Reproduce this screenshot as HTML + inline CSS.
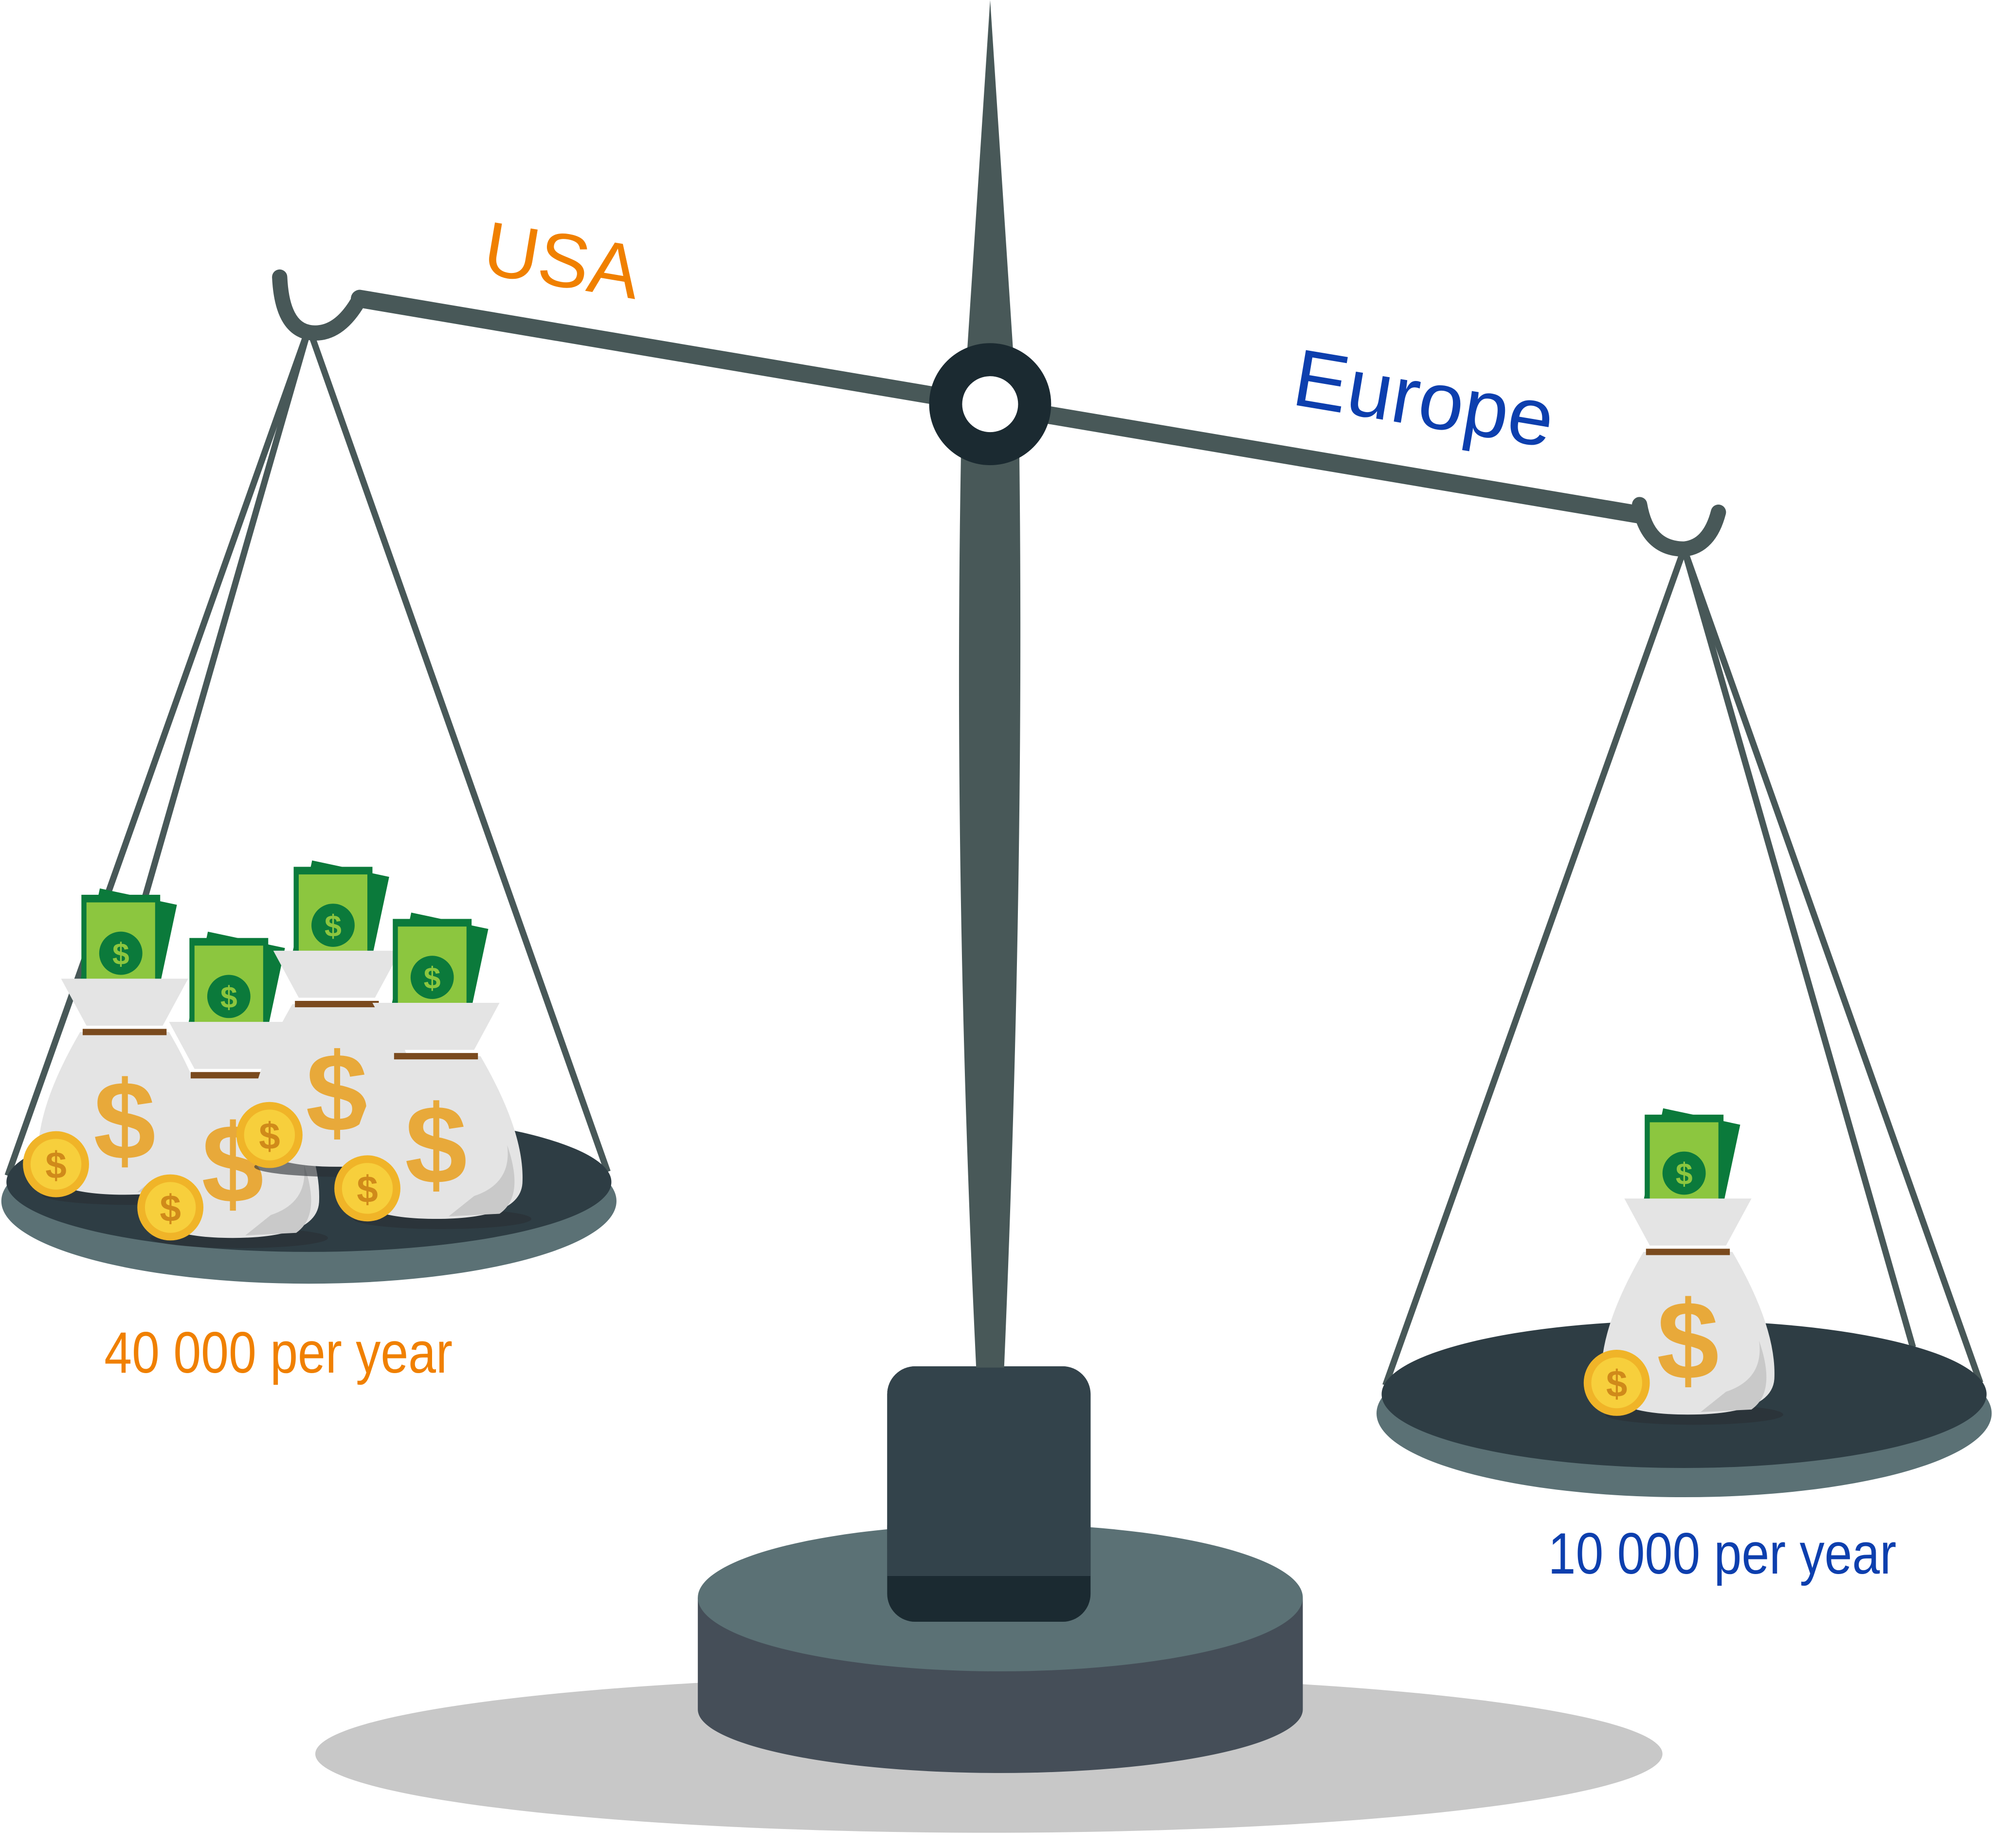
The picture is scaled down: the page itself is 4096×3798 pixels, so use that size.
<!DOCTYPE html>
<html><head><meta charset="utf-8"><style>
html,body{margin:0;padding:0;background:#fff;}
svg{display:block;}
text{font-family:"Liberation Sans",sans-serif;}
</style></head><body>
<svg id="scene" width="4096" height="3798" viewBox="0 0 1568 1454" xmlns="http://www.w3.org/2000/svg">
  <ellipse cx="778" cy="1380" rx="530" ry="62" fill="#c8c8c8"/>
  <g>
    <path d="M549 1257 L549 1345 A238 50 0 0 0 1025 1345 L1025 1257 Z" fill="#454e58"/>
    <ellipse cx="787" cy="1257" rx="238" ry="58" fill="#5b7175"/>
  </g>
  <g>
    <rect x="698" y="1075" width="160" height="201" rx="22" fill="#1b2a31"/>
    <rect x="698" y="1075" width="160" height="165" rx="22" fill="#33434b"/>
    <rect x="698" y="1200" width="160" height="40" fill="#33434b"/>
  </g>
  <path d="M779 0 L797 275 L761 275 Z M756 360 L802 360 Q806 700 790 1076 L768 1076 Q750 700 756 360 Z" fill="#485858"/>
  <g stroke="#485858" fill="none" stroke-linecap="round">
    <line x1="283" y1="235" x2="1290" y2="405" stroke-width="14"/>
    <path d="M220 218 Q222 262 248 262 Q268 262 283 235" stroke-width="12"/>
    <path d="M1290 397 Q1296 432 1325 432 Q1345 430 1352 403" stroke-width="12"/>
  </g>
  <circle cx="779" cy="318" r="48" fill="#1b2a31"/>
  <circle cx="779" cy="318" r="22" fill="#fff"/>
  <g stroke="#485858" stroke-width="5">
    <line x1="243" y1="258" x2="6" y2="925"/>
    <line x1="243" y1="258" x2="110" y2="720"/>
    <line x1="243" y1="258" x2="478" y2="922"/>
  </g>
  <g>
    <ellipse cx="243" cy="945" rx="242" ry="65" fill="#5b7175"/>
    <ellipse cx="243" cy="930" rx="238" ry="55" fill="#2e3d44"/>
  </g>
  <g stroke="#485858" stroke-width="5">
    <line x1="1325" y1="432" x2="1090" y2="1090"/>
    <line x1="1325" y1="432" x2="1505" y2="1060"/>
    <line x1="1325" y1="432" x2="1558" y2="1088"/>
  </g>
  <g>
    <ellipse cx="1325" cy="1112" rx="242" ry="66" fill="#5b7175"/>
    <ellipse cx="1325" cy="1097" rx="238" ry="58" fill="#2e3d44"/>
  </g>
  <g id="bags"></g>
  <text x="378" y="215" font-size="60" fill="#f08000" transform="rotate(9.5 378 215)">USA</text>
  <text x="1015" y="318" font-size="64" fill="#0d3fae" transform="rotate(9.5 1015 318)">Europe</text>
  <text x="82" y="1080" font-size="46" fill="#f08000" textLength="274" lengthAdjust="spacingAndGlyphs">40 000 per year</text>
  <text x="1218" y="1238" font-size="46" fill="#0d3fae" textLength="274" lengthAdjust="spacingAndGlyphs">10 000 per year</text>
<script>
const leftBagsX=[98,183,265,343];
const leftBagsY=[812,846,790,831];
const leftCoinsX=[44,134,212,289];
const leftCoinsY=[916,950,893,935];
const rightBagsX=[1328];
const rightBagsY=[985];
const rightCoinsX=[1272];
const rightCoinsY=[1088];
const NS='http://www.w3.org/2000/svg';
const root=document.getElementById('bags');
function mk(tag,attrs,parent){const e=document.createElementNS(NS,tag);for(const k in attrs)e.setAttribute(k,attrs[k]);parent.appendChild(e);return e;}
function bag(x,y,i){
  const g=mk('g',{transform:'translate('+x+','+y+')'},root);
  
  
  mk('ellipse',{cx:5,cy:128,rx:70,ry:8,fill:'#2a2f33',opacity:0.6},g);
  mk('rect',{x:-28,y:-108,width:62,height:80,fill:'#0b7a3b',transform:'rotate(12 0 -70)'},g);
  mk('rect',{x:-34,y:-108,width:62,height:80,fill:'#0b7a3b'},g);
  mk('rect',{x:-30,y:-102,width:54,height:70,fill:'#8cc63f'},g);
  mk('circle',{cx:-3,cy:-62,r:17,fill:'#0b7a3b'},g);
  const t=mk('text',{x:-3,y:-53,'font-size':24,'font-weight':'bold',fill:'#8cc63f','text-anchor':'middle'},g);t.textContent='$';
  mk('path',{d:'M-50 -42 L50 -42 L30 -5 L-30 -5 Z',fill:'#e4e4e4'},g);
  mk('path',{d:'M-35 0 Q-70 60 -68 100 Q-66 128 0 128 Q66 128 68 100 Q70 60 35 0 Z',fill:'#e4e4e4'},g);
  mk('path',{d:'M30 110 Q60 100 56 70 Q70 110 50 124 L10 126 Z',fill:'#c9c9c9'},g);
  mk('line',{x1:-33,y1:0,x2:33,y2:0,stroke:'#7a4a1e','stroke-width':5},g);
  const d=mk('text',{x:0,y:100,'font-size':88,'font-weight':'bold',fill:'#e8a93a','text-anchor':'middle'},g);d.textContent='$';
}
function coin(x,y){
  const g=mk('g',{transform:'translate('+x+','+y+')'},root);
  
  
  mk('circle',{cx:0,cy:0,r:26,fill:'#f0b428'},g);
  mk('circle',{cx:0,cy:0,r:20,fill:'#f7cf3c'},g);
  const t=mk('text',{x:0,y:11,'font-size':30,'font-weight':'bold',fill:'#d08a1a','text-anchor':'middle'},g);t.textContent='$';
}
leftBagsX.forEach((x,i)=>bag(x,leftBagsY[i],i));
leftCoinsX.forEach((x,i)=>coin(x,leftCoinsY[i]));
rightBagsX.forEach((x,i)=>bag(x,rightBagsY[i],i));
rightCoinsX.forEach((x,i)=>coin(x,rightCoinsY[i]));
</script>
</svg>
</body></html>
